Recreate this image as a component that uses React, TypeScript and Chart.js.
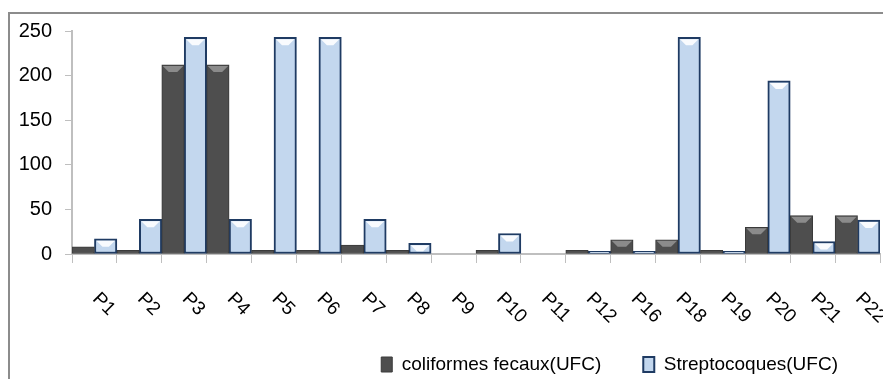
import React, { useEffect, useRef } from 'react';
import { Chart, registerables } from 'chart.js';

Chart.register(...registerables);

const categories = ['P1', 'P2', 'P3', 'P4', 'P5', 'P6', 'P7', 'P8', 'P9', 'P10', 'P11', 'P12', 'P16', 'P18', 'P19', 'P20', 'P21', 'P22'];
const coliformesFecaux = [8, 4, 212, 212, 4, 4, 10, 4, 0, 4, 0, 4, 16, 16, 4, 30, 43, 43];
const streptocoques = [17, 39, 243, 39, 243, 243, 39, 12, 0, 23, 0, 3, 3, 243, 3, 194, 14, 38];
const yTicks = [0, 50, 100, 150, 200, 250];
const seriesNames = ['coliformes fecaux(UFC)', 'Streptocoques(UFC)'];

const FONT = "'Liberation Sans', Arial, sans-serif";
const bevelColors = ['rgba(150,150,150,0.85)', 'rgba(255,255,255,0.9)'];

const rotatedLabels = {
  id: 'rotatedLabels',
  afterDraw(chart: any) {
    const xs = chart.scales.x;
    const ctx = chart.ctx;
    ctx.save();
    ctx.font = `19px ${FONT}`;
    ctx.fillStyle = '#000';
    ctx.textAlign = 'left';
    ctx.textBaseline = 'middle';
    (chart.data.labels as string[]).forEach((lab, i) => {
      const px = xs.getPixelForValue(i);
      ctx.save();
      ctx.translate(px + 1, xs.top + 42);
      ctx.rotate(Math.PI / 4);
      ctx.fillText(String(lab), 0, 0);
      ctx.restore();
    });
    ctx.restore();
  },
};

const bevel = {
  id: 'bevel',
  afterDatasetsDraw(chart: any) {
    const ctx = chart.ctx;
    ctx.save();
    chart.data.datasets.forEach((ds: any, di: number) => {
      const meta = chart.getDatasetMeta(di);
      const bw = ds.borderWidth || 1;
      meta.data.forEach((el: any) => {
        const { x, y, base, width } = el.getProps(['x', 'y', 'base', 'width'], true);
        const h = base - y;
        if (h < 10) return;
        const l = x - width / 2 + bw;
        const r = x + width / 2 - bw;
        const t = y + bw;
        const d = 6;
        ctx.fillStyle = bevelColors[di];
        ctx.beginPath();
        ctx.moveTo(l, t);
        ctx.lineTo(r, t);
        ctx.lineTo(r - d, t + d);
        ctx.lineTo(l + d, t + d);
        ctx.closePath();
        ctx.fill();
      });
    });
    ctx.restore();
  },
};

export default function App() {
  const ref = useRef<HTMLCanvasElement | null>(null);

  useEffect(() => {
    if (!ref.current) return;
    const chart = new Chart(ref.current, {
      type: 'bar',
      data: {
        labels: categories,
        datasets: [
          {
            label: seriesNames[0],
            data: coliformesFecaux,
            backgroundColor: '#4e4e4e',
            borderColor: '#3a3a3a',
            borderWidth: 1,
            borderSkipped: false,
            categoryPercentage: 1,
            barPercentage: 1,
          },
          {
            label: seriesNames[1],
            data: streptocoques,
            backgroundColor: '#c3d7ee',
            borderColor: '#1f3b63',
            borderWidth: 2,
            borderSkipped: false,
            categoryPercentage: 1,
            barPercentage: 1,
          },
        ],
      },
      options: {
        responsive: false,
        animation: false,
        layout: { padding: { top: 31, right: 3, left: 0, bottom: -5 } },
        plugins: {
          legend: {
            position: 'bottom',
            align: 'end',
            labels: {
              font: { family: FONT, size: 19 },
              color: '#000',
              boxWidth: 11,
              boxHeight: 15,
              padding: 42,
            },
          },
          tooltip: { enabled: false },
        },
        scales: {
          x: {
            grid: { display: true, drawOnChartArea: false, drawTicks: true, tickLength: 9, color: '#bfbfbf', offset: true },
            border: { display: true, color: '#bfbfbf', width: 2 },
            ticks: { display: false },
            afterFit: (s: any) => { s.height = 59; },
          },
          y: {
            min: 0,
            max: 250,
            afterBuildTicks: (s: any) => { s.ticks = yTicks.map((v) => ({ value: v })); },
            ticks: { padding: 13, color: '#000', font: { family: FONT, size: 20 } },
            grid: { drawOnChartArea: false, tickLength: 7, color: '#bfbfbf' },
            border: { color: '#bfbfbf', width: 2 },
            afterFit: (s: any) => { s.width = 72; },
          },
        },
      },
      plugins: [bevel, rotatedLabels],
    } as any);
    return () => chart.destroy();
  }, []);

  return (
    <div style={{ position: 'fixed', left: 0, top: 0, width: 883, height: 379, overflow: 'hidden', background: '#fff' }}>
      <div style={{ position: 'absolute', left: 8, top: 12, width: 900, height: 400, borderLeft: '2px solid #8c8c8c', borderTop: '2px solid #8c8c8c' }} />
      <canvas ref={ref} width={883} height={379} style={{ position: 'absolute', left: 0, top: 0, display: 'block' }} />
    </div>
  );
}
